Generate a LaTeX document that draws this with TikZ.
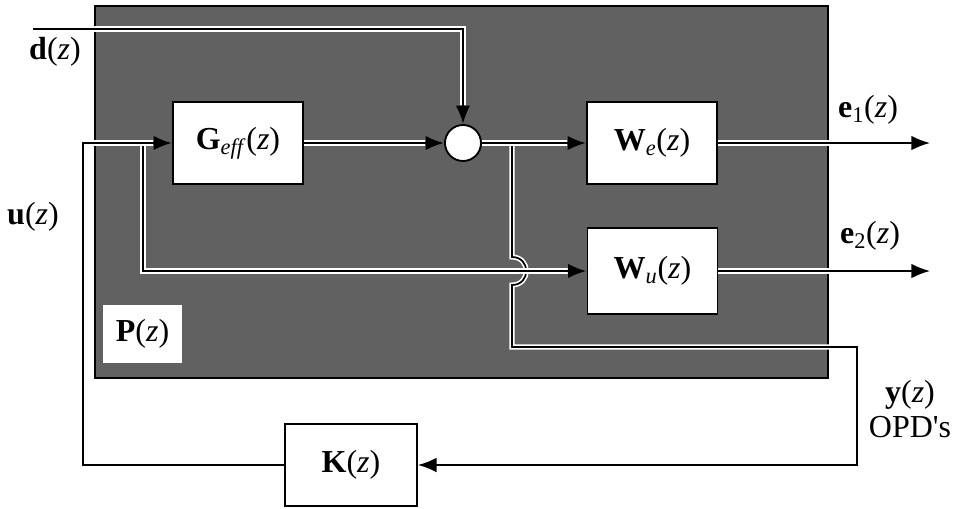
\documentclass[tikz,border=0pt]{standalone}
\usepackage{fontspec}
\setmainfont{Liberation Serif}
\usetikzlibrary{arrows.meta}
\newcommand{\bvec}[1]{\textbf{#1}}
\newcommand{\zz}{(\textit{z})}

\begin{document}
\begin{tikzpicture}[x=0.75pt,y=-0.75pt,
  >={Latex[length=14pt,width=11pt]},
  every node/.style={font=\fontsize{24}{26}\selectfont},
  blk/.style={draw,fill=white,line width=1.4pt,minimum width=97.5pt,minimum height=62pt,inner sep=0pt},
  wire/.style={line width=1.3pt},
  halo/.style={wire,preaction={draw=white,line width=3.8pt}}]
  \useasboundingbox (0,0) rectangle (959,508);
  \draw[line width=1.4pt,fill=black!62] (95,6) rectangle (828,378); % plant P(z)

  % blocks
  \node[blk] (geff) at (238,143) {\bvec{G}\textsubscript{\textit{eff}}\zz};
  \node[blk] (we) at (652,143) {\bvec{W}\textsubscript{\textit{e}}\zz};
  \node[blk,minimum height=64pt] (wu) at (652.5,271) {\bvec{W}\textsubscript{\textit{u}}\zz};
  \node[blk,minimum width=99pt] (kbox) at (351,465) {\bvec{K}\zz};
  \node[fill=white,minimum width=59pt,minimum height=43pt,inner sep=0pt] (pbox) at (142.5,334) {\bvec{P}\zz};
  \node[draw,circle,fill=white,minimum size=27pt,inner sep=0pt,line width=1.4pt] (sum) at (463,143) {};

  % corners of the wires
  \coordinate (din) at (33,29);
  \coordinate (ucorner) at (83,143);
  \coordinate (split) at (143,143);
  \coordinate (tap) at (512,143);
  \coordinate (yout) at (857,347);
  \coordinate (e1end) at (930,143);
  \coordinate (e2end) at (930,271);

  % wires
  \draw[halo,->] (din) -| (sum.north);
  \draw[halo,->] (tap) -- (512,257) .. controls +(19,0) and +(19,0) .. (512,285) |- (yout) |- (kbox.east); % y(z) with hop
  \draw[halo,->] (sum.east) -- (we.west);
  \draw[halo,->] (split) |- (wu.west);
  \draw[halo,->] (kbox.west) -| (ucorner) -- (geff.west);
  \draw[halo,->] (geff.east) -- (sum.west);
  \draw[halo,->] (we.east) -- (e1end);
  \draw[halo,->] (wu.east) -- (e2end);

  % labels
  \node (dlbl) at (55,52) {\bvec{d}\zz};
  \node (ulbl) at (33,217) {\bvec{u}\zz};
  \node (e1lbl) at (868,110) {\bvec{e}\textsubscript{1}\zz};
  \node (e2lbl) at (870,236) {\bvec{e}\textsubscript{2}\zz};
  \node[align=center] (ylbl) at (910,409) {\bvec{y}\zz\\OPD\textquotesingle s};
\end{tikzpicture}
\end{document}
